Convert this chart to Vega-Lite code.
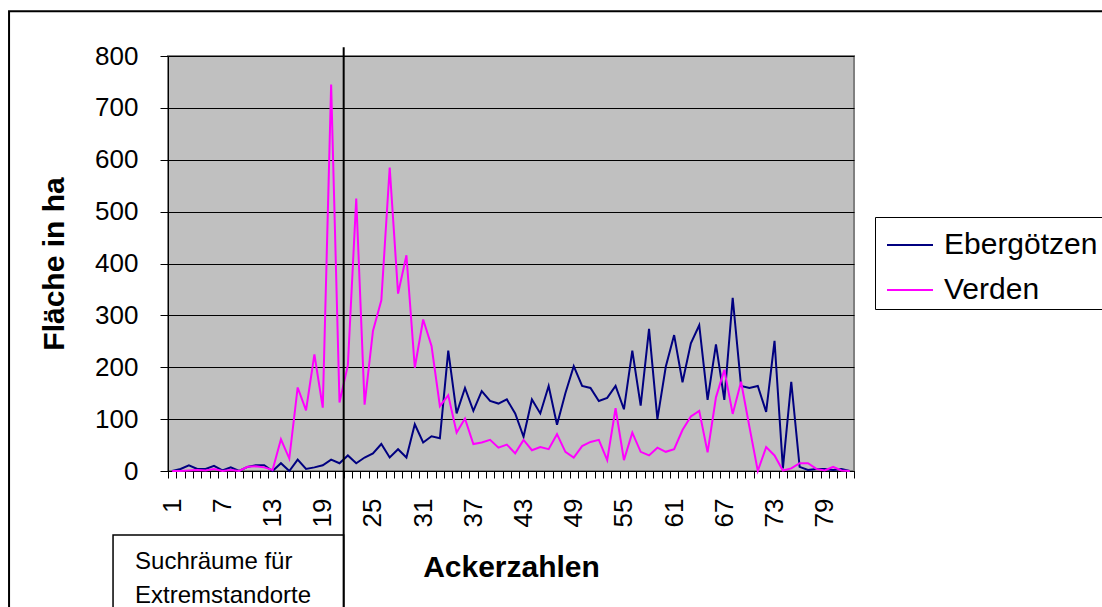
{
  "$schema": "https://vega.github.io/schema/vega-lite/v6.json",
  "width": 686,
  "height": 415,
  "autosize": {"type": "none"},
  "padding": {"left": 168, "top": 56, "right": 248, "bottom": 136},
  "background": "white",
  "config": {
    "font": "Liberation Sans",
    "view": {"fill": "#C0C0C0", "stroke": "#808080", "strokeWidth": 2}
  },
  "resolve": {"axis": {"x": "independent"}},
  "datasets": {
    "series": [
      {"Ackerzahl": 1, "Standort": "Ebergötzen", "Flaeche": 0},
      {"Ackerzahl": 2, "Standort": "Ebergötzen", "Flaeche": 4},
      {"Ackerzahl": 3, "Standort": "Ebergötzen", "Flaeche": 11},
      {"Ackerzahl": 4, "Standort": "Ebergötzen", "Flaeche": 4},
      {"Ackerzahl": 5, "Standort": "Ebergötzen", "Flaeche": 4},
      {"Ackerzahl": 6, "Standort": "Ebergötzen", "Flaeche": 10},
      {"Ackerzahl": 7, "Standort": "Ebergötzen", "Flaeche": 1},
      {"Ackerzahl": 8, "Standort": "Ebergötzen", "Flaeche": 7},
      {"Ackerzahl": 9, "Standort": "Ebergötzen", "Flaeche": 0},
      {"Ackerzahl": 10, "Standort": "Ebergötzen", "Flaeche": 8},
      {"Ackerzahl": 11, "Standort": "Ebergötzen", "Flaeche": 11},
      {"Ackerzahl": 12, "Standort": "Ebergötzen", "Flaeche": 11},
      {"Ackerzahl": 13, "Standort": "Ebergötzen", "Flaeche": 0},
      {"Ackerzahl": 14, "Standort": "Ebergötzen", "Flaeche": 15},
      {"Ackerzahl": 15, "Standort": "Ebergötzen", "Flaeche": 0},
      {"Ackerzahl": 16, "Standort": "Ebergötzen", "Flaeche": 22},
      {"Ackerzahl": 17, "Standort": "Ebergötzen", "Flaeche": 4},
      {"Ackerzahl": 18, "Standort": "Ebergötzen", "Flaeche": 7},
      {"Ackerzahl": 19, "Standort": "Ebergötzen", "Flaeche": 11},
      {"Ackerzahl": 20, "Standort": "Ebergötzen", "Flaeche": 22},
      {"Ackerzahl": 21, "Standort": "Ebergötzen", "Flaeche": 15},
      {"Ackerzahl": 22, "Standort": "Ebergötzen", "Flaeche": 30},
      {"Ackerzahl": 23, "Standort": "Ebergötzen", "Flaeche": 15},
      {"Ackerzahl": 24, "Standort": "Ebergötzen", "Flaeche": 26},
      {"Ackerzahl": 25, "Standort": "Ebergötzen", "Flaeche": 34},
      {"Ackerzahl": 26, "Standort": "Ebergötzen", "Flaeche": 52},
      {"Ackerzahl": 27, "Standort": "Ebergötzen", "Flaeche": 26},
      {"Ackerzahl": 28, "Standort": "Ebergötzen", "Flaeche": 42},
      {"Ackerzahl": 29, "Standort": "Ebergötzen", "Flaeche": 26},
      {"Ackerzahl": 30, "Standort": "Ebergötzen", "Flaeche": 90},
      {"Ackerzahl": 31, "Standort": "Ebergötzen", "Flaeche": 55},
      {"Ackerzahl": 32, "Standort": "Ebergötzen", "Flaeche": 67},
      {"Ackerzahl": 33, "Standort": "Ebergötzen", "Flaeche": 63},
      {"Ackerzahl": 34, "Standort": "Ebergötzen", "Flaeche": 232},
      {"Ackerzahl": 35, "Standort": "Ebergötzen", "Flaeche": 111},
      {"Ackerzahl": 36, "Standort": "Ebergötzen", "Flaeche": 160},
      {"Ackerzahl": 37, "Standort": "Ebergötzen", "Flaeche": 116},
      {"Ackerzahl": 38, "Standort": "Ebergötzen", "Flaeche": 154},
      {"Ackerzahl": 39, "Standort": "Ebergötzen", "Flaeche": 135},
      {"Ackerzahl": 40, "Standort": "Ebergötzen", "Flaeche": 130},
      {"Ackerzahl": 41, "Standort": "Ebergötzen", "Flaeche": 138},
      {"Ackerzahl": 42, "Standort": "Ebergötzen", "Flaeche": 111},
      {"Ackerzahl": 43, "Standort": "Ebergötzen", "Flaeche": 66},
      {"Ackerzahl": 44, "Standort": "Ebergötzen", "Flaeche": 138},
      {"Ackerzahl": 45, "Standort": "Ebergötzen", "Flaeche": 111},
      {"Ackerzahl": 46, "Standort": "Ebergötzen", "Flaeche": 164},
      {"Ackerzahl": 47, "Standort": "Ebergötzen", "Flaeche": 89},
      {"Ackerzahl": 48, "Standort": "Ebergötzen", "Flaeche": 150},
      {"Ackerzahl": 49, "Standort": "Ebergötzen", "Flaeche": 202},
      {"Ackerzahl": 50, "Standort": "Ebergötzen", "Flaeche": 164},
      {"Ackerzahl": 51, "Standort": "Ebergötzen", "Flaeche": 160},
      {"Ackerzahl": 52, "Standort": "Ebergötzen", "Flaeche": 135},
      {"Ackerzahl": 53, "Standort": "Ebergötzen", "Flaeche": 141},
      {"Ackerzahl": 54, "Standort": "Ebergötzen", "Flaeche": 164},
      {"Ackerzahl": 55, "Standort": "Ebergötzen", "Flaeche": 119},
      {"Ackerzahl": 56, "Standort": "Ebergötzen", "Flaeche": 232},
      {"Ackerzahl": 57, "Standort": "Ebergötzen", "Flaeche": 126},
      {"Ackerzahl": 58, "Standort": "Ebergötzen", "Flaeche": 274},
      {"Ackerzahl": 59, "Standort": "Ebergötzen", "Flaeche": 100},
      {"Ackerzahl": 60, "Standort": "Ebergötzen", "Flaeche": 201},
      {"Ackerzahl": 61, "Standort": "Ebergötzen", "Flaeche": 262},
      {"Ackerzahl": 62, "Standort": "Ebergötzen", "Flaeche": 171},
      {"Ackerzahl": 63, "Standort": "Ebergötzen", "Flaeche": 246},
      {"Ackerzahl": 64, "Standort": "Ebergötzen", "Flaeche": 281},
      {"Ackerzahl": 65, "Standort": "Ebergötzen", "Flaeche": 137},
      {"Ackerzahl": 66, "Standort": "Ebergötzen", "Flaeche": 244},
      {"Ackerzahl": 67, "Standort": "Ebergötzen", "Flaeche": 137},
      {"Ackerzahl": 68, "Standort": "Ebergötzen", "Flaeche": 334},
      {"Ackerzahl": 69, "Standort": "Ebergötzen", "Flaeche": 164},
      {"Ackerzahl": 70, "Standort": "Ebergötzen", "Flaeche": 160},
      {"Ackerzahl": 71, "Standort": "Ebergötzen", "Flaeche": 164},
      {"Ackerzahl": 72, "Standort": "Ebergötzen", "Flaeche": 114},
      {"Ackerzahl": 73, "Standort": "Ebergötzen", "Flaeche": 251},
      {"Ackerzahl": 74, "Standort": "Ebergötzen", "Flaeche": 5},
      {"Ackerzahl": 75, "Standort": "Ebergötzen", "Flaeche": 172},
      {"Ackerzahl": 76, "Standort": "Ebergötzen", "Flaeche": 8},
      {"Ackerzahl": 77, "Standort": "Ebergötzen", "Flaeche": 2},
      {"Ackerzahl": 78, "Standort": "Ebergötzen", "Flaeche": 4},
      {"Ackerzahl": 79, "Standort": "Ebergötzen", "Flaeche": 4},
      {"Ackerzahl": 80, "Standort": "Ebergötzen", "Flaeche": 2},
      {"Ackerzahl": 81, "Standort": "Ebergötzen", "Flaeche": 4},
      {"Ackerzahl": 82, "Standort": "Ebergötzen", "Flaeche": 0},
      {"Ackerzahl": 1, "Standort": "Verden", "Flaeche": 0},
      {"Ackerzahl": 2, "Standort": "Verden", "Flaeche": 0},
      {"Ackerzahl": 3, "Standort": "Verden", "Flaeche": 1},
      {"Ackerzahl": 4, "Standort": "Verden", "Flaeche": 2},
      {"Ackerzahl": 5, "Standort": "Verden", "Flaeche": 1},
      {"Ackerzahl": 6, "Standort": "Verden", "Flaeche": 4},
      {"Ackerzahl": 7, "Standort": "Verden", "Flaeche": 0},
      {"Ackerzahl": 8, "Standort": "Verden", "Flaeche": 2},
      {"Ackerzahl": 9, "Standort": "Verden", "Flaeche": 0},
      {"Ackerzahl": 10, "Standort": "Verden", "Flaeche": 8},
      {"Ackerzahl": 11, "Standort": "Verden", "Flaeche": 9},
      {"Ackerzahl": 12, "Standort": "Verden", "Flaeche": 7},
      {"Ackerzahl": 13, "Standort": "Verden", "Flaeche": 2},
      {"Ackerzahl": 14, "Standort": "Verden", "Flaeche": 61},
      {"Ackerzahl": 15, "Standort": "Verden", "Flaeche": 24},
      {"Ackerzahl": 16, "Standort": "Verden", "Flaeche": 161},
      {"Ackerzahl": 17, "Standort": "Verden", "Flaeche": 117},
      {"Ackerzahl": 18, "Standort": "Verden", "Flaeche": 225},
      {"Ackerzahl": 19, "Standort": "Verden", "Flaeche": 122},
      {"Ackerzahl": 20, "Standort": "Verden", "Flaeche": 745},
      {"Ackerzahl": 21, "Standort": "Verden", "Flaeche": 132},
      {"Ackerzahl": 22, "Standort": "Verden", "Flaeche": 204},
      {"Ackerzahl": 23, "Standort": "Verden", "Flaeche": 525},
      {"Ackerzahl": 24, "Standort": "Verden", "Flaeche": 128},
      {"Ackerzahl": 25, "Standort": "Verden", "Flaeche": 270},
      {"Ackerzahl": 26, "Standort": "Verden", "Flaeche": 329},
      {"Ackerzahl": 27, "Standort": "Verden", "Flaeche": 585},
      {"Ackerzahl": 28, "Standort": "Verden", "Flaeche": 342},
      {"Ackerzahl": 29, "Standort": "Verden", "Flaeche": 416},
      {"Ackerzahl": 30, "Standort": "Verden", "Flaeche": 199},
      {"Ackerzahl": 31, "Standort": "Verden", "Flaeche": 292},
      {"Ackerzahl": 32, "Standort": "Verden", "Flaeche": 241},
      {"Ackerzahl": 33, "Standort": "Verden", "Flaeche": 125},
      {"Ackerzahl": 34, "Standort": "Verden", "Flaeche": 146},
      {"Ackerzahl": 35, "Standort": "Verden", "Flaeche": 74},
      {"Ackerzahl": 36, "Standort": "Verden", "Flaeche": 101},
      {"Ackerzahl": 37, "Standort": "Verden", "Flaeche": 52},
      {"Ackerzahl": 38, "Standort": "Verden", "Flaeche": 55},
      {"Ackerzahl": 39, "Standort": "Verden", "Flaeche": 60},
      {"Ackerzahl": 40, "Standort": "Verden", "Flaeche": 45},
      {"Ackerzahl": 41, "Standort": "Verden", "Flaeche": 51},
      {"Ackerzahl": 42, "Standort": "Verden", "Flaeche": 34},
      {"Ackerzahl": 43, "Standort": "Verden", "Flaeche": 60},
      {"Ackerzahl": 44, "Standort": "Verden", "Flaeche": 40},
      {"Ackerzahl": 45, "Standort": "Verden", "Flaeche": 46},
      {"Ackerzahl": 46, "Standort": "Verden", "Flaeche": 42},
      {"Ackerzahl": 47, "Standort": "Verden", "Flaeche": 71},
      {"Ackerzahl": 48, "Standort": "Verden", "Flaeche": 37},
      {"Ackerzahl": 49, "Standort": "Verden", "Flaeche": 26},
      {"Ackerzahl": 50, "Standort": "Verden", "Flaeche": 48},
      {"Ackerzahl": 51, "Standort": "Verden", "Flaeche": 56},
      {"Ackerzahl": 52, "Standort": "Verden", "Flaeche": 60},
      {"Ackerzahl": 53, "Standort": "Verden", "Flaeche": 21},
      {"Ackerzahl": 54, "Standort": "Verden", "Flaeche": 121},
      {"Ackerzahl": 55, "Standort": "Verden", "Flaeche": 21},
      {"Ackerzahl": 56, "Standort": "Verden", "Flaeche": 74},
      {"Ackerzahl": 57, "Standort": "Verden", "Flaeche": 37},
      {"Ackerzahl": 58, "Standort": "Verden", "Flaeche": 30},
      {"Ackerzahl": 59, "Standort": "Verden", "Flaeche": 45},
      {"Ackerzahl": 60, "Standort": "Verden", "Flaeche": 37},
      {"Ackerzahl": 61, "Standort": "Verden", "Flaeche": 42},
      {"Ackerzahl": 62, "Standort": "Verden", "Flaeche": 79},
      {"Ackerzahl": 63, "Standort": "Verden", "Flaeche": 105},
      {"Ackerzahl": 64, "Standort": "Verden", "Flaeche": 116},
      {"Ackerzahl": 65, "Standort": "Verden", "Flaeche": 36},
      {"Ackerzahl": 66, "Standort": "Verden", "Flaeche": 142},
      {"Ackerzahl": 67, "Standort": "Verden", "Flaeche": 195},
      {"Ackerzahl": 68, "Standort": "Verden", "Flaeche": 110},
      {"Ackerzahl": 69, "Standort": "Verden", "Flaeche": 172},
      {"Ackerzahl": 70, "Standort": "Verden", "Flaeche": 85},
      {"Ackerzahl": 71, "Standort": "Verden", "Flaeche": 0},
      {"Ackerzahl": 72, "Standort": "Verden", "Flaeche": 46},
      {"Ackerzahl": 73, "Standort": "Verden", "Flaeche": 30},
      {"Ackerzahl": 74, "Standort": "Verden", "Flaeche": 1},
      {"Ackerzahl": 75, "Standort": "Verden", "Flaeche": 5},
      {"Ackerzahl": 76, "Standort": "Verden", "Flaeche": 15},
      {"Ackerzahl": 77, "Standort": "Verden", "Flaeche": 15},
      {"Ackerzahl": 78, "Standort": "Verden", "Flaeche": 4},
      {"Ackerzahl": 79, "Standort": "Verden", "Flaeche": 1},
      {"Ackerzahl": 80, "Standort": "Verden", "Flaeche": 8},
      {"Ackerzahl": 81, "Standort": "Verden", "Flaeche": 1},
      {"Ackerzahl": 82, "Standort": "Verden", "Flaeche": 0}
    ]
  },
  "layer": [
    {
      "data": {"values": [{}]},
      "mark": {"type": "rect", "fill": null, "fillOpacity": 0, "stroke": "black", "strokeWidth": 2, "clip": false},
      "encoding": {
        "x": {"datum": -18.5, "type": "quantitative", "scale": {"domain": [0.5, 82.5], "nice": false, "zero": false}, "axis": null},
        "x2": {"datum": 118},
        "y": {"datum": 886.5, "type": "quantitative", "scale": {"domain": [0, 800], "nice": false}},
        "y2": {"datum": -300}
      }
    },
    {
      "data": {"values": [{}]},
      "mark": {"type": "rect", "fill": "white", "stroke": "black", "strokeWidth": 1.5, "clip": false},
      "encoding": {
        "x": {"datum": -6.07, "type": "quantitative", "axis": null},
        "x2": {"datum": 21.5},
        "y": {"datum": -123.4, "type": "quantitative"},
        "y2": {"datum": -300}
      }
    },
    {
      "data": {"values": [{}]},
      "mark": {"type": "text", "align": "left", "baseline": "alphabetic", "fontSize": 24, "lineHeight": 34, "font": "Liberation Sans", "color": "black", "clip": false},
      "encoding": {
        "x": {"datum": -3.44, "type": "quantitative", "axis": null},
        "y": {"datum": -188, "type": "quantitative"},
        "text": {"value": ["Suchräume für", "Extremstandorte"]}
      }
    },
    {
      "data": {"name": "series"},
      "mark": {"type": "line", "strokeWidth": 2},
      "encoding": {
        "x": {
          "field": "Ackerzahl",
          "type": "quantitative",
          "scale": {"domain": [0.5, 82.5], "nice": false, "zero": false},
          "axis": {
            "orient": "bottom",
            "title": "Ackerzahlen",
            "titleFontSize": 30,
            "titleFontWeight": "bold",
            "titleColor": "black",
            "titlePadding": 26,
            "values": [1, 7, 13, 19, 25, 31, 37, 43, 49, 55, 61, 67, 73, 79],
            "format": "d",
            "labelAngle": 270,
            "labelAlign": "right",
            "labelBaseline": "middle",
            "labelFontSize": 26,
            "labelColor": "black",
            "labelPadding": 27,
            "labelOverlap": false,
            "labelBound": false,
            "labelFlush": false,
            "ticks": false,
            "tickSize": 0,
            "domain": false,
            "grid": false
          }
        },
        "y": {
          "field": "Flaeche",
          "type": "quantitative",
          "scale": {"domain": [0, 800], "nice": false},
          "axis": {
            "title": "Fläche in ha",
            "titleFontSize": 30,
            "titleFontWeight": "bold",
            "titleColor": "black",
            "titlePadding": 25,
            "values": [0, 100, 200, 300, 400, 500, 600, 700, 800],
            "labelFontSize": 26,
            "labelColor": "black",
            "labelPadding": 22,
            "tickSize": 8,
            "tickColor": "black",
            "domainColor": "black",
            "grid": true,
            "gridColor": "black",
            "gridWidth": 1,
            "gridOpacity": 1
          }
        },
        "color": {
          "field": "Standort",
          "type": "nominal",
          "scale": {"domain": ["Ebergötzen", "Verden"], "range": ["#000080", "#FF00FF"]},
          "legend": {
            "title": null,
            "orient": "none",
            "legendX": 707,
            "legendY": 161,
            "strokeColor": "black",
            "fillColor": "white",
            "padding": 4,
            "labelFontSize": 30,
            "labelColor": "black",
            "labelOffset": 10,
            "symbolOffset": 7,
            "symbolType": "stroke",
            "symbolSize": 2116,
            "symbolStrokeWidth": 2,
            "rowPadding": 6
          }
        }
      }
    },
    {
      "data": {"values": [{}]},
      "mark": {"type": "rule", "color": "black", "strokeWidth": 2, "clip": false},
      "encoding": {
        "x": {
          "datum": 21.5,
          "type": "quantitative",
          "axis": {
            "orient": "bottom",
            "title": null,
            "values": [0.5, 1.5, 2.5, 3.5, 4.5, 5.5, 6.5, 7.5, 8.5, 9.5, 10.5, 11.5, 12.5, 13.5, 14.5, 15.5, 16.5, 17.5, 18.5, 19.5, 20.5, 21.5, 22.5, 23.5, 24.5, 25.5, 26.5, 27.5, 28.5, 29.5, 30.5, 31.5, 32.5, 33.5, 34.5, 35.5, 36.5, 37.5, 38.5, 39.5, 40.5, 41.5, 42.5, 43.5, 44.5, 45.5, 46.5, 47.5, 48.5, 49.5, 50.5, 51.5, 52.5, 53.5, 54.5, 55.5, 56.5, 57.5, 58.5, 59.5, 60.5, 61.5, 62.5, 63.5, 64.5, 65.5, 66.5, 67.5, 68.5, 69.5, 70.5, 71.5, 72.5, 73.5, 74.5, 75.5, 76.5, 77.5, 78.5, 79.5, 80.5, 81.5, 82.5],
            "labels": false,
            "ticks": true,
            "tickSize": 7,
            "tickColor": "black",
            "tickWidth": 1,
            "domain": true,
            "domainColor": "black",
            "domainWidth": 1,
            "grid": false
          }
        },
        "y": {"datum": 817, "type": "quantitative"},
        "y2": {"datum": -300}
      }
    }
  ]
}
